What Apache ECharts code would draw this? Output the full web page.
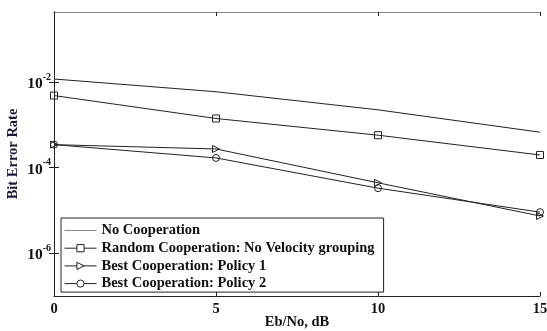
<!DOCTYPE html>
<html>
<head>
<meta charset="utf-8">
<script src="https://cdn.jsdelivr.net/npm/echarts@6/dist/echarts.min.js"></script>
<style>
  html, body { margin: 0; padding: 0; background: #fff; }
  #chart { width: 547px; height: 331px; }
</style>
</head>
<body>
<div id="chart"></div>
<script>
var snr = [0, 5, 10, 15];
var noCoop = [0.0117, 0.0059, 0.00223, 0.00067];
var randomCoop = [0.0048, 0.0014, 0.00057, 0.000197];
var policy1 = [0.000343, 0.000272, 0.000044, 0.0000074];
var policy2 = [0.000343, 0.000168, 0.000033, 0.0000091];
var yTicks = [1e-2, 1e-4, 1e-6];
var xTicks = [0, 5, 10, 15];

var font = "Liberation Serif";
var ink = "#222";

function pairs(ys) {
    return snr.map(function (x, i) { return [x, ys[i]]; });
}

function lineSeries(name, ys, symbol, rotate) {
    return {
        name: name,
        type: "line",
        data: pairs(ys),
        symbol: symbol,
        symbolSize: 7,
        symbolRotate: rotate || 0,
        showSymbol: symbol !== "none",
        lineStyle: { color: ink, width: 1 },
        itemStyle: { color: "transparent", borderColor: ink, borderWidth: 1 },
        emphasis: { disabled: true },
        animation: false,
        z: 3
    };
}

var chart = echarts.init(document.getElementById("chart"), null, { renderer: "canvas" });

chart.setOption({
    backgroundColor: "#fff",
    animation: false,
    grid: { left: 54, right: 7, top: 12, bottom: 35, outerBoundsMode: "none", containLabel: false },
    legend: {
        orient: "vertical",
        left: 61,
        top: 218,
        padding: [5, 9, 1, 3],
        itemWidth: 32,
        itemHeight: 9,
        itemGap: 2.7,
        backgroundColor: "#fff",
        borderColor: ink,
        borderWidth: 1,
        selectedMode: false,
        lineStyle: { width: 1 },
        itemStyle: { color: "#fff", borderColor: ink, borderWidth: 1 },
        textStyle: { fontFamily: font, fontWeight: "bold", fontSize: 14.5, color: "#111" },
        data: [
            { name: "No Cooperation", lineStyle: { color: "#888", width: 1 },
              itemStyle: { color: "transparent", borderColor: "transparent", borderWidth: 0 } },
            "Random Cooperation: No Velocity grouping",
            "Best Cooperation: Policy 1",
            "Best Cooperation: Policy 2"
        ]
    },
    xAxis: [{
        type: "value",
        min: 0,
        max: 15,
        interval: 5,
        name: "Eb/No, dB",
        nameLocation: "middle",
        nameGap: 19,
        nameMoveOverlap: false,
        nameTextStyle: { fontFamily: font, fontWeight: "bold", fontSize: 14.5, color: "#111" },
        axisLine: { lineStyle: { color: ink } },
        axisTick: { inside: true, length: 4, lineStyle: { color: ink } },
        axisLabel: {
            margin: 6, fontFamily: font, fontWeight: "bold", fontSize: 14.5, color: "#111",
            customValues: xTicks
        },
        splitLine: { show: false }
    }, {
        type: "value",
        position: "top",
        min: 0,
        max: 15,
        interval: 5,
        axisLine: { lineStyle: { color: "#888" } },
        axisTick: { inside: true, length: 4, lineStyle: { color: ink } },
        axisLabel: { show: false },
        splitLine: { show: false }
    }],
    yAxis: [{
        type: "log",
        logBase: 10,
        min: 1e-7,
        max: 0.43,
        name: "Bit Error Rate",
        nameLocation: "middle",
        nameGap: 33,
        nameMoveOverlap: false,
        nameTextStyle: { fontFamily: font, fontWeight: "bold", fontSize: 14.5, color: "#1a1a3a" },
        axisLine: { lineStyle: { color: ink } },
        axisTick: { inside: true, length: 5, lineStyle: { color: ink }, customValues: yTicks },
        axisLabel: {
            margin: 3,
            customValues: yTicks,
            formatter: function (v) {
                var e = Math.round(Math.log(v) / Math.LN10);
                return "{b|10}{s|" + e + "}";
            },
            rich: {
                b: { fontFamily: font, fontWeight: "bold", fontSize: 15.5, color: "#111", verticalAlign: "bottom", lineHeight: 20 },
                s: { fontFamily: font, fontWeight: "bold", fontSize: 10, color: "#111", verticalAlign: "top", lineHeight: 20 }
            }
        },
        splitLine: { show: false }
    }, {
        type: "log",
        logBase: 10,
        position: "right",
        min: 1e-7,
        max: 0.43,
        axisLine: { lineStyle: { color: ink } },
        axisTick: { inside: true, length: 5, lineStyle: { color: ink }, customValues: yTicks },
        axisLabel: { show: false },
        splitLine: { show: false }
    }],
    series: [
        lineSeries("No Cooperation", noCoop, "none"),
        lineSeries("Random Cooperation: No Velocity grouping", randomCoop, "rect"),
        lineSeries("Best Cooperation: Policy 1", policy1, "triangle", -90),
        lineSeries("Best Cooperation: Policy 2", policy2, "circle")
    ]
});
</script>
</body>
</html>
